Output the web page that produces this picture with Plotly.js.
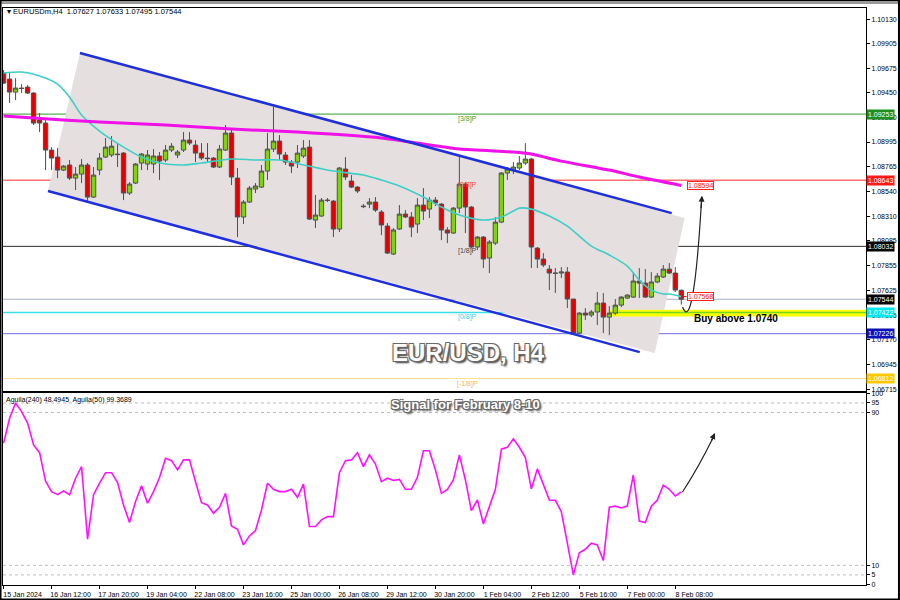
<!DOCTYPE html>
<html><head><meta charset="utf-8">
<script src="https://cdn.plot.ly/plotly-3.0.1.min.js"></script>
<style>body{margin:0;background:#fff}#chart{width:900px;height:600px}</style>
</head><body><div id="chart"></div>
<script>
// ---------- DATA ----------
const xTickIdx = [0,8,16,24,32,40,48,56,64,72,80,88,96,104,112];
const xTickLabels = ["15 Jan 2024","16 Jan 12:00","17 Jan 20:00","19 Jan 04:00","22 Jan 08:00","23 Jan 16:00","25 Jan 00:00","26 Jan 08:00","29 Jan 12:00","30 Jan 20:00","1 Feb 04:00","2 Feb 12:00","5 Feb 16:00","7 Feb 00:00","8 Feb 08:00"];

const openP  = [1.09631,1.09576,1.09456,1.09493,1.09502,1.09447,1.09198,1.09170,1.08921,1.08856,1.08736,1.08783,1.08662,1.08699,1.08783,1.08487,1.08736,1.08856,1.08875,1.08884,1.08893,1.08524,1.08616,1.08801,1.08792,1.08792,1.08866,1.08829,1.08921,1.08875,1.08921,1.09013,1.08967,1.08893,1.08847,1.08847,1.08764,1.08921,1.09078,1.08662,1.08303,1.08441,1.08561,1.08579,1.08727,1.08930,1.09004,1.08875,1.08810,1.08810,1.08866,1.08948,1.08275,1.08312,1.08459,1.08450,1.08192,1.08746,1.08635,1.08579,1.08404,1.08422,1.08441,1.08349,1.08220,1.07961,1.08192,1.08330,1.08303,1.08238,1.08413,1.08376,1.08459,1.08422,1.08183,1.08155,1.08385,1.08607,1.08395,1.08026,1.08118,1.07924,1.08062,1.08256,1.08709,1.08736,1.08755,1.08801,1.08838,1.08016,1.07915,1.07822,1.07786,1.07786,1.07795,1.07546,1.07232,1.07416,1.07398,1.07426,1.07509,1.07379,1.07416,1.07490,1.07555,1.07564,1.07712,1.07693,1.07564,1.07703,1.07749,1.07822,1.07786,1.07627];
const highP  = [1.09659,1.09641,1.09585,1.09530,1.09521,1.09456,1.09262,1.09216,1.08948,1.08939,1.08783,1.08829,1.08764,1.08838,1.08801,1.08764,1.08893,1.09032,1.09050,1.08985,1.08903,1.08625,1.08801,1.08893,1.08921,1.08930,1.08903,1.08967,1.08985,1.08921,1.09087,1.09087,1.09013,1.08985,1.08985,1.08856,1.08967,1.09152,1.09106,1.08755,1.08459,1.08589,1.08616,1.08783,1.09078,1.09318,1.09059,1.08903,1.08829,1.08967,1.09013,1.09013,1.08506,1.08478,1.08478,1.08459,1.08764,1.08856,1.08690,1.08589,1.08422,1.08478,1.08487,1.08367,1.08247,1.08201,1.08413,1.08367,1.08349,1.08478,1.08570,1.08487,1.08487,1.08432,1.08210,1.08395,1.08866,1.08625,1.08404,1.08127,1.08127,1.08090,1.08302,1.08718,1.08764,1.08810,1.08866,1.08985,1.08847,1.08026,1.07970,1.07860,1.07832,1.07841,1.07841,1.07546,1.07426,1.07462,1.07444,1.07610,1.07601,1.07481,1.07546,1.07573,1.07592,1.07795,1.07832,1.07823,1.07795,1.07786,1.07860,1.07878,1.07841,1.07633];
const lowP   = [1.09530,1.09355,1.09382,1.09447,1.09438,1.09152,1.09087,1.08736,1.08736,1.08662,1.08727,1.08644,1.08552,1.08616,1.08441,1.08478,1.08690,1.08847,1.08856,1.08764,1.08459,1.08506,1.08607,1.08736,1.08736,1.08709,1.08644,1.08810,1.08903,1.08847,1.08903,1.08967,1.08810,1.08829,1.08810,1.08755,1.08755,1.08912,1.08598,1.08118,1.08238,1.08432,1.08524,1.08570,1.08644,1.08903,1.08829,1.08783,1.08709,1.08755,1.08847,1.08275,1.08201,1.08303,1.08441,1.08118,1.08164,1.08644,1.08570,1.08524,1.08385,1.08385,1.08349,1.08136,1.07961,1.07952,1.08183,1.08293,1.08118,1.08155,1.08275,1.08293,1.08404,1.08090,1.08062,1.08146,1.08339,1.08155,1.08016,1.07998,1.07832,1.07786,1.08044,1.08247,1.08644,1.08699,1.08736,1.08783,1.07832,1.07832,1.07841,1.07629,1.07602,1.07740,1.07463,1.07223,1.07223,1.07352,1.07379,1.07306,1.07232,1.07213,1.07398,1.07472,1.07546,1.07555,1.07555,1.07555,1.07555,1.07693,1.07740,1.07777,1.07610,1.07495];
const closeP = [1.09539,1.09456,1.09493,1.09489,1.09447,1.09170,1.09170,1.08921,1.08847,1.08736,1.08773,1.08662,1.08699,1.08783,1.08487,1.08690,1.08847,1.08948,1.08957,1.08879,1.08524,1.08607,1.08792,1.08884,1.08875,1.08866,1.08819,1.08921,1.08957,1.08903,1.09013,1.08985,1.08893,1.08847,1.08842,1.08764,1.08930,1.09078,1.08672,1.08303,1.08441,1.08570,1.08589,1.08727,1.08930,1.09004,1.08884,1.08810,1.08773,1.08893,1.08939,1.08284,1.08321,1.08459,1.08456,1.08192,1.08755,1.08672,1.08579,1.08543,1.08399,1.08441,1.08367,1.08229,1.07970,1.08183,1.08330,1.08303,1.08210,1.08413,1.08358,1.08459,1.08432,1.08183,1.08155,1.08385,1.08607,1.08395,1.08026,1.08118,1.07915,1.08072,1.08256,1.08709,1.08746,1.08764,1.08801,1.08838,1.08026,1.07915,1.07860,1.07786,1.07783,1.07795,1.07546,1.07232,1.07416,1.07398,1.07426,1.07509,1.07379,1.07416,1.07490,1.07564,1.07582,1.07712,1.07693,1.07564,1.07703,1.07758,1.07822,1.07786,1.07629,1.07544];

// slow moving average (magenta), sampled points
const maSlowIdx = [0,5,16,27,38,49,63,76,85,88,93,101,106,113];
const maSlowVal = [1.09235,1.09216,1.09179,1.09152,1.09115,1.09087,1.09032,1.08930,1.08903,1.08884,1.08819,1.08736,1.08672,1.08594];
// fast moving average (turquoise), sampled points
const maFastIdx = [0,3,6,9,11,13,16,20,23,26,30,33,38,42,46,50,55,60,63,66,70,73,76,80,83,85,86,88,91,94,98,101,104,106,108,110,111,113];
const maFastVal = [1.09632,1.09641,1.09604,1.09530,1.09410,1.09244,1.09096,1.08948,1.08856,1.08801,1.08783,1.08801,1.08838,1.08829,1.08829,1.08783,1.08727,1.08690,1.08644,1.08589,1.08487,1.08395,1.08321,1.08275,1.08303,1.08358,1.08385,1.08376,1.08312,1.08219,1.08035,1.07952,1.07850,1.07721,1.07629,1.07592,1.07592,1.07568];

// Aguila(240) oscillator
const aguila = [74,87,95,90.5,84.5,73,69,54,48.6,47,49,47,55.6,61.7,23.7,47,53,58.5,58.5,53.3,41.6,32.4,43.4,51.6,42.5,48.6,56,66,64.8,60,65.2,65.2,53.8,42.8,41.6,37.3,40.4,47.7,30.6,28.9,20.7,25.4,28.2,39,53,49.8,48.6,48.6,49.8,45.6,52.5,30.3,30.3,33.8,35.5,35.5,58.5,64.8,65.2,69,61.7,67.8,63,53.8,55.6,54.4,55,49.8,49.8,56,70,70,60,47.7,49.8,54.7,67.8,54.7,38.6,44.2,31.7,40.7,49.8,70.8,71.8,76.2,71.8,66.4,50,60.5,52,44.2,44,38.1,21.6,5,16.6,18.4,21.6,20.7,12.5,40.4,41,40,41,57.3,33.2,32.4,41,44.2,52,49.8,46.3,48.5];

// price axis ticks
const priceTicks = [1.10130,1.09905,1.09675,1.09450,1.09220,1.08995,1.08765,1.08540,1.08310,1.08085,1.07855,1.07625,1.07395,1.07170,1.06945,1.06715];
const oscTicks = [0,5,10,90,95,100];
const oscLevels = [95,90,10,5];

// horizontal levels and their price boxes
const levelPrices = [1.09253,1.08643,1.08032,1.07544,1.07422,1.07226,1.06812];
const levelColors = ['#2e9e2e','#ff2a2a','#303030','#a8b0c4','#38e0ee','#6a6ae8','#ffe08a'];
const boxColors   = ['#1f8f1f','#ff1a1a','#000000','#000000','#00e8f0','#1010b8','#ffc800'];
// Murrey labels
const murreyText  = ['[3/8]P','[2/8]P','[1/8]P','[0/8]P','[-1/8]P'];
const murreyPrice = [1.09253,1.08643,1.08032,1.07422,1.06812];
const murreyColor = ['#3aa43a','#ff4040','#444444','#30d8e8','#f0c020'];

// channel (index, price)
const chanUpper = [[12.73,1.09816],[111.4,1.08339]];
const chanLower = [[7.4,1.08543],[106.07,1.07056]];
const chanShade = [[12.73,1.09816],[113.57,1.08293],[108.57,1.07047],[7.4,1.08543]];
const buyBand = [101.1,1.07448,1.07384];
const markPrices = [1.08594,1.07568];

// ---------- FIGURE ----------
const idx = openP.map((_, i) => i);
const XR = [-0.1, 143.8];

const traces = [
  {type:'candlestick', x:idx, open:openP, high:highP, low:lowP, close:closeP, xaxis:'x', yaxis:'y',
   increasing:{fillcolor:'#80d400', line:{color:'#505050', width:1}},
   decreasing:{fillcolor:'#e80000', line:{color:'#505050', width:1}},
   whiskerwidth:0, hoverinfo:'skip'},
  {type:'scatter', mode:'lines', x:maFastIdx, y:maFastVal, xaxis:'x', yaxis:'y',
   line:{color:'#3ccfc6', width:1.6, shape:'spline', smoothing:0.8}, hoverinfo:'skip'},
  {type:'scatter', mode:'lines', x:maSlowIdx, y:maSlowVal, xaxis:'x', yaxis:'y',
   line:{color:'#f010e8', width:3, shape:'spline', smoothing:0.6}, hoverinfo:'skip'},
  {type:'scatter', mode:'lines', x:idx, y:aguila, xaxis:'x2', yaxis:'y2',
   line:{color:'#ff10ff', width:1.6}, hoverinfo:'skip'}
];

const shapes = [];
// channel shade
shapes.push({type:'path', xref:'x', yref:'y', layer:'below',
  path:'M '+chanShade.map(p=>p[0]+','+p[1]).join(' L ')+' Z', fillcolor:'#e6dfdf', line:{width:0}});
// level lines
levelPrices.forEach((p,k)=>{
  shapes.push({type:'line', xref:'paper', yref:'y', x0:0, x1:1, y0:p, y1:p, layer:'below',
    line:{color:levelColors[k], width: k===4?1.5:1}});
});
// yellow band
shapes.push({type:'rect', xref:'x', yref:'y', x0:buyBand[0], x1:XR[1], y0:buyBand[2], y1:buyBand[1],
  fillcolor:'#ffff00', line:{width:0}, layer:'below'});
shapes.push({type:'line', xref:'x', yref:'y', x0:buyBand[0], x1:XR[1], y0:levelPrices[4], y1:levelPrices[4],
  line:{color:'#70d820', width:1.5}, layer:'below'});
// channel lines
[chanUpper, chanLower].forEach(c=>{
  shapes.push({type:'line', xref:'x', yref:'y', x0:c[0][0], y0:c[0][1], x1:c[1][0], y1:c[1][1],
    line:{color:'#1f2fe0', width:2.5}});
});
// short marker tie
shapes.push({type:'line', xref:'x', yref:'y', x0:113, x1:113.9, y0:markPrices[1], y1:markPrices[1], line:{color:'#e00', width:1}});
// black arrow in price panel
shapes.push({type:'path', xref:'x', yref:'y', path:'M 113.2,1.07472 Q 115.07,1.07213 116.4,1.08480',
  line:{color:'#222', width:1.2}});
// oscillator dotted levels
oscLevels.forEach(v=>{
  shapes.push({type:'line', xref:'paper', yref:'y2', x0:0, x1:1, y0:v, y1:v, layer:'below',
    line:{color:'#bdbdbd', width:1, dash:'dot'}});
});
// oscillator arrow
shapes.push({type:'path', xref:'x2', yref:'y2', path:'M 113.2,48.4 Q 115.9,61.5 118.4,77.5',
  line:{color:'#222', width:1.2}});
// top grey strip and outer frame
shapes.push({type:'rect', xref:'paper', yref:'paper', x0:-0.01, x1:1.05, y0:1+4/577, y1:1+9/577, fillcolor:'#9a9a9a', line:{width:0}});
shapes.push({type:'rect', xref:'paper', yref:'paper', x0:-3/863+0.0006, x1:1+34/863-0.0012, y0:-15/577+0.0009, y1:1+8/577, fillcolor:'rgba(0,0,0,0)', line:{color:'#000', width:2}});

const annotations = [];
annotations.push({xref:'paper', yref:'paper', x:0.0023, y:0.9935, xanchor:'left', yanchor:'middle', showarrow:false,
  text:'▾ EURUSDm,H4  1.07627 1.07633 1.07495 1.07544', font:{size:7.5, color:'#000'}});
annotations.push({xref:'paper', yref:'paper', x:0.0012, y:0.3206, xanchor:'left', yanchor:'middle', showarrow:false,
  text:'Aguila(240) 48.4945  Aguila(50) 99.3689', font:{size:7, color:'#000'}});
murreyText.forEach((t,k)=>{
  annotations.push({xref:'x', yref:'y', x:77.4, y:murreyPrice[k], xanchor:'center', yanchor:'top', yshift:1, showarrow:false,
    text:t, font:{size:7, color:murreyColor[k]}});
});
levelPrices.forEach((p,k)=>{
  annotations.push({xref:'paper', yref:'y', x:1, y:p, xanchor:'left', yanchor:'middle', showarrow:false,
    text:p.toFixed(5), bgcolor:boxColors[k], borderpad:1, font:{size:7, color:'#fff'}});
});
markPrices.forEach(p=>{
  annotations.push({xref:'x', yref:'y', x:113.9, y:p, xanchor:'left', yanchor:'middle', showarrow:false,
    text:p.toFixed(5), bgcolor:'#fff', bordercolor:'#ff2020', borderwidth:1, borderpad:0, font:{size:7, color:'#ff2020'}});
});
annotations.push({xref:'paper', yref:'paper', x:0.798, y:0.4627, xanchor:'left', yanchor:'middle', showarrow:false,
  text:'<b>Buy above 1.0740</b>', font:{size:10, color:'#000'}});
const outline = '-1px -1px 0 #6a6a6a, 1px -1px 0 #6a6a6a, -1px 1px 0 #6a6a6a, 1px 1px 0 #6a6a6a, 2px 2px 2px #333';
annotations.push({xref:'paper', yref:'paper', x:0.539, y:0.4038, xanchor:'center', yanchor:'middle', showarrow:false,
  text:'<b>EUR/USD, H4</b>', font:{size:24, color:'#ffffff', family:'Liberation Sans, Arial, sans-serif', shadow:outline}});
annotations.push({xref:'paper', yref:'paper', x:0.5365, y:0.312, xanchor:'center', yanchor:'middle', showarrow:false,
  text:'<b>Signal for February 8-10</b>', font:{size:13, color:'#ffffff', family:'Liberation Sans, Arial, sans-serif', shadow:outline}});
// arrow heads
annotations.push({xref:'x', yref:'y', x:116.45, y:1.08500, ax:-1, ay:14, showarrow:true, arrowhead:2, arrowsize:1, arrowwidth:1.2, arrowcolor:'#222', text:''});
annotations.push({xref:'x2', yref:'y2', x:118.6, y:79.3, ax:-4, ay:9, showarrow:true, arrowhead:2, arrowsize:1, arrowwidth:1.2, arrowcolor:'#222', text:''});

const axBase = {showgrid:false, zeroline:false, showline:true, mirror:true, linecolor:'#000', linewidth:1, fixedrange:true};
const layout = {
  width:900, height:600,
  margin:{l:3, r:34, t:8, b:15, pad:0},
  paper_bgcolor:'#ffffff', plot_bgcolor:'#ffffff',
  showlegend:false, hovermode:false,
  boxgap:0.15, boxgroupgap:0.15,
  font:{family:'Liberation Sans, Arial, sans-serif', size:7, color:'#000'},
  xaxis:Object.assign({}, axBase, {domain:[0,1], range:XR, anchor:'y', showticklabels:false, ticks:'', rangeslider:{visible:false}}),
  yaxis:Object.assign({}, axBase, {domain:[0.336,1], range:[1.06696,1.10232], anchor:'x', side:'right',
     tickvals:priceTicks, tickformat:'.5f', ticks:'outside', ticklen:3, tickcolor:'#000', tickfont:{size:7}}),
  xaxis2:Object.assign({}, axBase, {domain:[0,1], range:XR, anchor:'y2', tickvals:xTickIdx, ticktext:xTickLabels,
     ticks:'outside', ticklen:3, tickcolor:'#000', ticklabelshift:19, tickfont:{size:7}}),
  yaxis2:Object.assign({}, axBase, {domain:[0,0.332], range:[-0.3,100], anchor:'x2', side:'right',
     tickvals:oscTicks, ticks:'outside', ticklen:3, tickcolor:'#000', tickfont:{size:7}}),
  shapes:shapes, annotations:annotations
};
Plotly.newPlot('chart', traces, layout, {staticPlot:true, displayModeBar:false});
</script></body></html>
